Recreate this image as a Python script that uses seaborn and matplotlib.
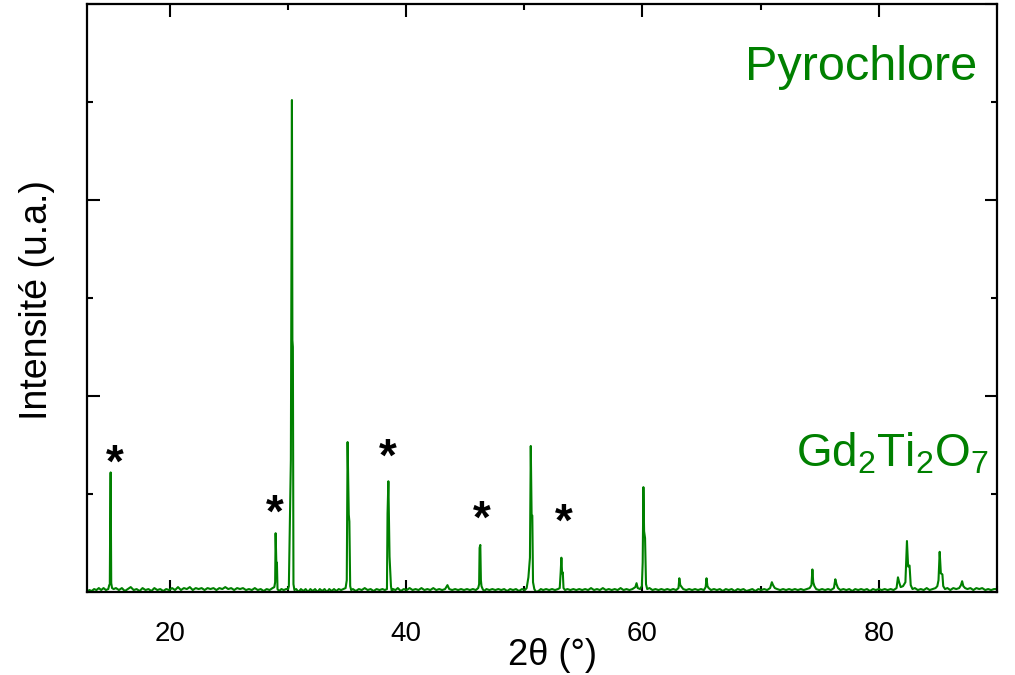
import matplotlib
matplotlib.use("Agg")
import matplotlib.pyplot as plt
from matplotlib.ticker import MultipleLocator, NullFormatter
import seaborn as sns
import pandas as pd

# ---- data (2theta in degrees, intensity in arbitrary units) ----
two_theta = [
    13.0, 13.2, 13.4, 13.6, 13.8, 14.0, 14.2, 14.4, 14.6, 14.8,
    14.88, 14.93, 14.96, 15.0, 15.05, 15.12, 15.25,
    15.45, 15.7, 15.95, 16.2, 16.45, 16.7, 16.95, 17.2, 17.45, 17.7, 17.95, 18.2, 18.45, 18.7, 18.95,
    19.2, 19.45, 19.7, 19.95, 20.2, 20.45, 20.7, 20.95, 21.2, 21.45, 21.7, 21.95, 22.2, 22.45, 22.7,
    22.95, 23.2, 23.45, 23.7, 23.95, 24.2, 24.45, 24.7, 24.95, 25.2, 25.45, 25.7, 25.95, 26.2, 26.45,
    26.7, 26.95, 27.2, 27.45, 27.7, 27.95, 28.2, 28.45, 28.7,
    28.85, 28.92, 28.96, 29.02, 29.07, 29.12, 29.25, 29.45, 29.65, 29.85, 30.02,
    30.08, 30.25, 30.34, 30.38, 30.42, 30.47, 30.55, 30.7,
    30.9, 31.1, 31.3, 31.5, 31.7, 31.9, 32.1, 32.3, 32.5, 32.7, 32.9, 33.1, 33.3, 33.5, 33.7, 33.9,
    34.1, 34.3, 34.5, 34.7, 34.88,
    34.98, 35.05, 35.15, 35.2, 35.27, 35.35, 35.5, 35.75, 36.0, 36.25, 36.5, 36.75, 37.0, 37.25,
    37.5, 37.75, 38.0, 38.2, 38.38,
    38.43, 38.5, 38.6, 38.72, 38.8, 38.9, 39.1, 39.3, 39.55, 39.8, 40.05, 40.3, 40.55, 40.8, 41.05,
    41.3, 41.55, 41.8, 42.05, 42.3, 42.55, 42.8, 43.05, 43.3, 43.5, 43.65, 43.9, 44.15, 44.4, 44.65,
    44.9, 45.15, 45.4, 45.65, 45.9, 46.1,
    46.18, 46.22, 46.28, 46.33, 46.38, 46.48, 46.6, 46.8, 47.05, 47.3, 47.55, 47.8, 48.05, 48.3,
    48.55, 48.8, 49.05, 49.3, 49.55, 49.8, 50.05, 50.2,
    50.35, 50.48, 50.55, 50.62, 50.68, 50.74, 50.85, 51.0, 51.2, 51.4, 51.6, 51.85, 52.1, 52.35,
    52.6, 52.85, 53.0,
    53.08, 53.14, 53.2, 53.26, 53.32, 53.45, 53.65, 53.9, 54.15, 54.4, 54.65, 54.9, 55.15, 55.4,
    55.65, 55.9, 56.15, 56.4, 56.65, 56.9, 57.15, 57.4, 57.65, 57.9, 58.15, 58.4, 58.65, 58.9,
    59.15, 59.4, 59.5, 59.6, 59.8, 59.95,
    60.02, 60.08, 60.14, 60.22, 60.3, 60.4, 60.6, 60.85, 61.1, 61.35, 61.6, 61.85, 62.1, 62.35,
    62.6, 62.85, 63.05, 63.12, 63.2, 63.32, 63.45, 63.7, 63.95, 64.2, 64.45, 64.7, 64.95, 65.2,
    65.35, 65.42, 65.5, 65.6, 65.8, 66.05, 66.3, 66.55, 66.8, 67.05, 67.3, 67.55, 67.8, 68.05,
    68.3, 68.55, 68.8, 69.05, 69.3, 69.55, 69.8, 70.05, 70.3, 70.55, 70.8, 70.95, 71.05, 71.2,
    71.4, 71.65, 71.9, 72.15, 72.4, 72.65, 72.9, 73.15, 73.4, 73.65, 73.9, 74.15, 74.3, 74.38,
    74.45, 74.55, 74.7, 74.95, 75.2, 75.45, 75.7, 75.95, 76.2, 76.32, 76.42, 76.55, 76.75, 77.0,
    77.25, 77.5, 77.75, 78.0, 78.25, 78.5, 78.75, 79.0, 79.25, 79.5, 79.75, 80.0, 80.25, 80.5,
    80.75, 81.0, 81.25, 81.5, 81.62, 81.72, 81.85, 82.05, 82.25, 82.38, 82.48, 82.6, 82.7, 82.85,
    83.05, 83.3, 83.55, 83.8, 84.05, 84.3, 84.55, 84.8, 84.95, 85.05, 85.15, 85.25, 85.38, 85.45,
    85.6, 85.8, 86.05, 86.3, 86.55, 86.8, 86.95, 87.05, 87.15, 87.3, 87.5, 87.75, 88.0, 88.25,
    88.5, 88.75, 89.0, 89.25, 89.5, 89.75, 90.0,
]
intensity = [
    0.00, 0.02, 0.01, 0.03, 0.02, 0.04, 0.02, 0.04, 0.02, 0.03,
    0.07, 0.08, 0.68, 1.22, 0.09, 0.04, 0.03,
    0.04, 0.02, 0.04, 0.01, 0.03, 0.05, 0.02, 0.03, 0.01, 0.04, 0.02, 0.03, 0.01, 0.04, 0.02,
    0.03, 0.01, 0.03, 0.02, 0.04, 0.02, 0.05, 0.02, 0.04, 0.03, 0.05, 0.02, 0.04, 0.03, 0.04,
    0.02, 0.04, 0.03, 0.04, 0.02, 0.04, 0.03, 0.05, 0.03, 0.04, 0.02, 0.04, 0.03, 0.04, 0.02,
    0.03, 0.02, 0.04, 0.02, 0.03, 0.01, 0.03, 0.02, 0.04,
    0.05, 0.10, 0.60, 0.30, 0.30, 0.03, 0.01, 0.03, 0.02, 0.03, 0.03,
    0.06, 1.35, 5.02, 2.57, 2.50, 0.08, 0.02, 0.03,
    0.00, 0.03, 0.01, 0.03, 0.00, 0.03, 0.01, 0.03, 0.00, 0.03, 0.01, 0.03, 0.00, 0.03, 0.01, 0.03,
    0.01, 0.03, 0.02, 0.03, 0.04,
    0.12, 1.53, 0.79, 0.72, 0.06, 0.02, 0.03, 0.01, 0.03, 0.02, 0.04, 0.02, 0.03, 0.01,
    0.03, 0.02, 0.03, 0.02, 0.03,
    0.80, 1.13, 0.36, 0.06, 0.00, 0.03, 0.02, 0.04, 0.01, 0.03, 0.02, 0.04, 0.02, 0.03, 0.02,
    0.04, 0.02, 0.03, 0.02, 0.04, 0.02, 0.03, 0.02, 0.03, 0.07, 0.03, 0.02, 0.03, 0.02, 0.03,
    0.02, 0.03, 0.02, 0.03, 0.02, 0.04,
    0.08, 0.45, 0.48, 0.12, 0.06, 0.03, 0.01, 0.03, 0.02, 0.03, 0.02, 0.03, 0.02, 0.03,
    0.01, 0.03, 0.02, 0.03, 0.01, 0.03, 0.02, 0.04,
    0.15, 0.35, 1.49, 0.79, 0.78, 0.10, 0.03, 0.00, 0.01, 0.03, 0.02, 0.03, 0.02, 0.03,
    0.02, 0.03, 0.04,
    0.20, 0.35, 0.19, 0.20, 0.04, 0.02, 0.03, 0.02, 0.03, 0.02, 0.03, 0.02, 0.03, 0.02,
    0.04, 0.02, 0.03, 0.02, 0.04, 0.02, 0.03, 0.02, 0.03, 0.02, 0.04, 0.02, 0.03, 0.02,
    0.03, 0.05, 0.09, 0.04, 0.03, 0.06,
    0.30, 1.07, 0.62, 0.55, 0.08, 0.03, 0.04, 0.02, 0.03, 0.02, 0.03, 0.02, 0.03, 0.02,
    0.03, 0.02, 0.04, 0.14, 0.07, 0.05, 0.03, 0.02, 0.03, 0.02, 0.03, 0.02, 0.03, 0.02,
    0.05, 0.14, 0.06, 0.04, 0.02, 0.03, 0.02, 0.03, 0.01, 0.03, 0.02, 0.03, 0.01, 0.03,
    0.02, 0.03, 0.01, 0.02, 0.03, 0.01, 0.03, 0.02, 0.03, 0.02, 0.04, 0.10, 0.07, 0.04,
    0.03, 0.02, 0.03, 0.02, 0.03, 0.02, 0.03, 0.02, 0.03, 0.02, 0.03, 0.04, 0.07, 0.23,
    0.10, 0.06, 0.03, 0.02, 0.03, 0.02, 0.03, 0.02, 0.04, 0.13, 0.08, 0.04, 0.02, 0.03,
    0.02, 0.03, 0.01, 0.03, 0.02, 0.03, 0.02, 0.03, 0.01, 0.03, 0.02, 0.03, 0.02, 0.03,
    0.02, 0.03, 0.02, 0.04, 0.15, 0.10, 0.05, 0.06, 0.10, 0.52, 0.26, 0.27, 0.07, 0.03,
    0.04, 0.02, 0.03, 0.02, 0.04, 0.02, 0.03, 0.04, 0.06, 0.12, 0.41, 0.19, 0.18, 0.06,
    0.03, 0.04, 0.02, 0.04, 0.03, 0.04, 0.07, 0.11, 0.06, 0.04, 0.03, 0.04, 0.02, 0.04,
    0.03, 0.04, 0.02, 0.03, 0.02, 0.03, 0.03,
]

# impurity reflections marked with an asterisk (label positions)
star_x = [15.34, 28.9, 38.47, 46.44, 53.31]
star_y = [1.30, 0.79, 1.36, 0.73, 0.70]

x_label = "2\u03b8 (\u00b0)"
y_label = "Intensit\u00e9 (u.a.)"
phase_label = "Pyrochlore"
compound_label = r"Gd$_2$Ti$_2$O$_7$"
x_major_ticks = [20, 40, 60, 80]

# ---- style ----
sns.set_theme(style="ticks")
plt.rcParams["font.family"] = ["Liberation Sans", "DejaVu Sans"]
plt.rcParams["mathtext.fontset"] = "custom"
plt.rcParams["mathtext.rm"] = "Liberation Sans"
plt.rcParams["mathtext.it"] = "Liberation Sans"

GREEN = "#008000"

fig = plt.figure(figsize=(10.15, 6.75), dpi=100)
ax = fig.add_axes([87 / 1015, 1 - 592 / 675, 910 / 1015, 588 / 675])

df = pd.DataFrame({"two_theta": two_theta, "intensity": intensity})
sns.lineplot(data=df, x="two_theta", y="intensity", ax=ax, color=GREEN,
             linewidth=1.5, sort=False, estimator=None)

ax.set_xlim(13, 90)
ax.set_ylim(0, 6)

ax.set_xticks(x_major_ticks)
ax.xaxis.set_minor_locator(MultipleLocator(10))
ax.yaxis.set_major_locator(MultipleLocator(2))
ax.yaxis.set_minor_locator(MultipleLocator(1))
ax.yaxis.set_major_formatter(NullFormatter())

for s in ax.spines.values():
    s.set_visible(True)
    s.set_linewidth(1.6)
    s.set_color("black")

ax.tick_params(axis="both", which="both", direction="in", top=True, right=True,
               color="black", width=1.5)
ax.tick_params(axis="both", which="major", length=9)
ax.tick_params(axis="both", which="minor", length=4.5)
ax.tick_params(axis="x", which="major", labelsize=20, pad=21, labelcolor="black")

ax.set_xlabel(x_label, fontsize=26, color="black")
ax.xaxis.label.set_va("baseline")
ax.xaxis.set_label_coords((552 - 87) / 910, (592 - 665) / 588)

ax.set_ylabel(y_label, fontsize=27, color="black")
ax.yaxis.set_label_coords((55 - 87) / 910, (592 - 300) / 588)

for sx, sy in zip(star_x, star_y):
    ax.text(sx, sy, "*", fontsize=33, fontweight="bold", color="black",
            ha="center", va="center")

fig.text(977 / 1015, 1 - 80 / 675, phase_label, fontsize=35, color=GREEN,
         ha="right", va="baseline")
fig.text(796 / 1015, 1 - 467 / 675, compound_label, fontsize=33, color=GREEN,
         ha="left", va="baseline")

fig.savefig("out.png", dpi=100, facecolor="white")
